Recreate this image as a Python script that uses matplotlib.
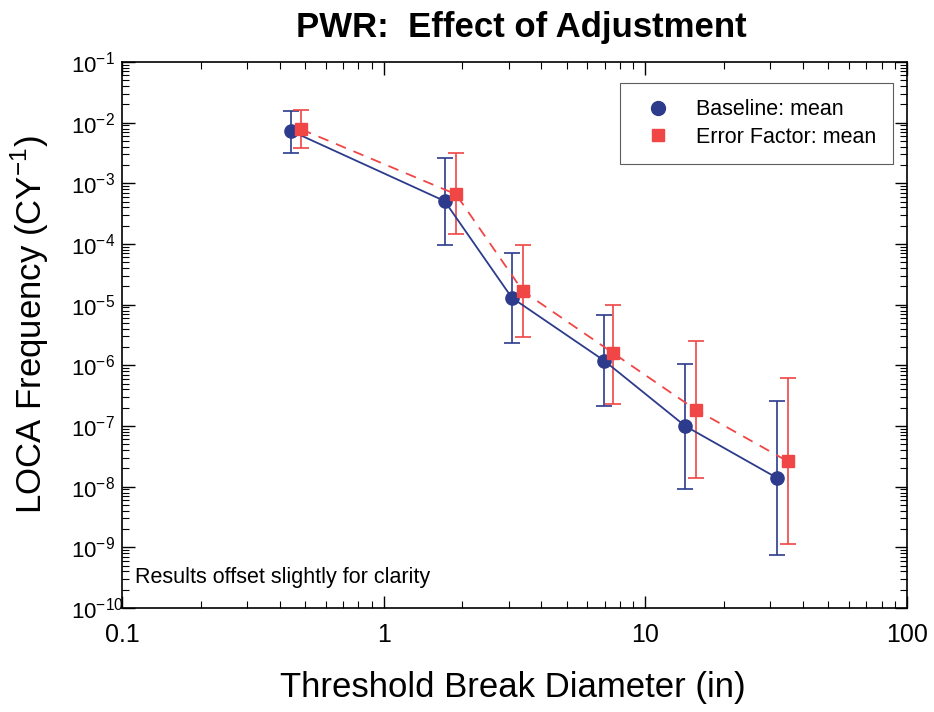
import matplotlib
matplotlib.use("Agg")
import matplotlib.pyplot as plt
from matplotlib.lines import Line2D
from matplotlib.ticker import LogLocator, FixedLocator, FixedFormatter, NullFormatter, FuncFormatter
import math

plt.rcParams['font.family'] = ['Liberation Sans', 'DejaVu Sans']

# Baseline
base_x = [0.443, 1.71, 3.09, 6.95, 14.2, 31.8]
base_y = [7.3e-3, 5.1e-4, 1.3e-5, 1.2e-6, 1.0e-7, 1.4e-8]
base_hi = [1.55e-2, 2.6e-3, 7.2e-5, 6.8e-6, 1.05e-6, 2.6e-7]
base_lo = [3.2e-3, 9.5e-5, 2.3e-6, 2.1e-7, 9.3e-9, 7.6e-10]

# Error Factor
err_x = [0.483, 1.89, 3.41, 7.52, 15.6, 35.1]
err_y = [7.8e-3, 6.6e-4, 1.66e-5, 1.6e-6, 1.85e-7, 2.6e-8]
err_hi = [1.6e-2, 3.2e-3, 9.5e-5, 9.8e-6, 2.5e-6, 6.3e-7]
err_lo = [3.8e-3, 1.45e-4, 2.9e-6, 2.3e-7, 1.4e-8, 1.15e-9]

x_ticks = [0.1, 1, 10, 100]
x_ticklabels = ['0.1', '1', '10', '100']

blue = '#2c3b8c'
red = '#f04646'

fig = plt.figure(figsize=(9.34, 7.12), dpi=100)
ax = fig.add_axes([122/934, 1 - 608/712, 785/934, 546/712])

def yerr(y, lo, hi):
    return [[a - b for a, b in zip(y, lo)], [b - a for a, b in zip(y, hi)]]

ax.errorbar(base_x, base_y, yerr=yerr(base_y, base_lo, base_hi), color=blue,
            marker='o', markersize=9.5, lw=1.3, capsize=6, elinewidth=1.2,
            capthick=1.2, linestyle='-', zorder=3)
ax.errorbar(err_x, err_y, yerr=yerr(err_y, err_lo, err_hi), color=red,
            marker='s', markersize=9, lw=1.3, capsize=6, elinewidth=1.2,
            capthick=1.2, linestyle=(0, (6, 4.5)), zorder=3)

ax.set_xscale('log')
ax.set_yscale('log')
ax.set_xlim(0.1, 100)
ax.set_ylim(1e-10, 1e-1)

ax.xaxis.set_major_locator(FixedLocator(x_ticks))
ax.xaxis.set_major_formatter(FixedFormatter(x_ticklabels))
ax.xaxis.set_minor_locator(LogLocator(base=10, subs=range(2, 10)))
ax.xaxis.set_minor_formatter(NullFormatter())
ax.yaxis.set_major_locator(LogLocator(base=10, numticks=20))
ax.yaxis.set_minor_locator(LogLocator(base=10, subs=range(2, 10), numticks=20))
ax.yaxis.set_minor_formatter(NullFormatter())

def yfmt(v, pos):
    e = int(round(math.log10(v)))
    return '10$^{\\mathregular{%d}}$' % e
ax.yaxis.set_major_formatter(FuncFormatter(yfmt))

ax.tick_params(which='both', direction='in', top=True, right=True)
ax.tick_params(which='major', length=9, width=1)
ax.tick_params(which='minor', length=5, width=0.8)
ax.tick_params(axis='x', labelsize=18, pad=11)
ax.tick_params(axis='y', labelsize=16, pad=37)
for lab in ax.get_yticklabels():
    lab.set_horizontalalignment('left')
for s in ax.spines.values():
    s.set_linewidth(1.2)

fig.text(521/934, 1 - 28/712, 'PWR:  Effect of Adjustment', fontsize=25,
         fontweight='bold', ha='center', va='center')
ax.set_xlabel('Threshold Break Diameter (in)', fontsize=25)
ax.xaxis.set_label_coords((513 - 122) / 785, -(688 - 608) / 546)
ax.xaxis.label.set_va('center')
ax.set_ylabel('LOCA Frequency (CY$^{\\mathregular{-1}}$)', fontsize=25)
ax.yaxis.set_label_coords(-(122 - 30) / 785, (608 - 325) / 546)
ax.yaxis.label.set_va('center')

ax.text((135 - 122) / 785, (608 - 578) / 546, 'Results offset slightly for clarity',
        transform=ax.transAxes, fontsize=15.5, ha='left', va='center')

handles = [Line2D([], [], color=blue, marker='o', markersize=10, linestyle='none'),
           Line2D([], [], color=red, marker='s', markersize=9, linestyle='none')]
leg = ax.legend(handles, ['Baseline: mean', 'Error Factor: mean'],
                loc='upper right', bbox_to_anchor=(0.982, 0.9615), fontsize=15.5,
                frameon=True, fancybox=False, edgecolor='#333333', borderpad=0.75,
                handlelength=2.0, handletextpad=0.8, labelspacing=0.3,
                borderaxespad=0)
leg.get_frame().set_linewidth(0.8)

fig.savefig('out.png', dpi=100)
